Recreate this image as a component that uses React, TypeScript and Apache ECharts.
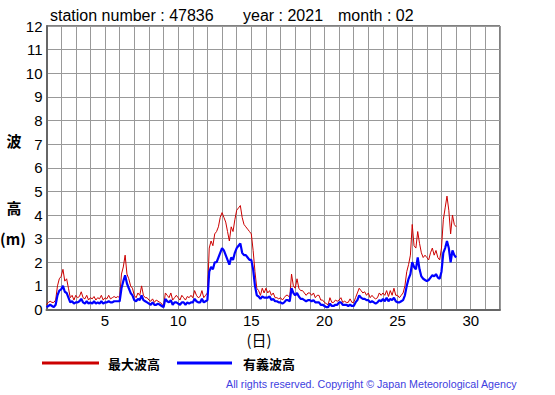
import React, { useEffect, useRef } from "react";
import * as echarts from "echarts";

// 3-hourly readings, starting at day 1 00:00, ending day 29 00:00
const maxWave: number[] = [
  0.2, 0.3, 0.35, 0.3, 0.3, 0.4, 1.0, 1.3,
  1.4, 1.7, 1.2, 1.3, 0.9, 0.5, 0.6, 0.4,
  0.6, 0.5, 0.55, 0.75, 0.5, 0.45, 0.6, 0.4,
  0.5, 0.45, 0.55, 0.4, 0.5, 0.45, 0.6, 0.4,
  0.5, 0.45, 0.6, 0.45, 0.5, 0.55, 0.5, 0.55,
  0.5, 1.5, 1.8, 2.3, 1.5, 1.3, 1.0, 0.9,
  0.6, 0.5, 0.7, 0.6, 1.0, 0.6, 0.5, 0.5,
  0.4, 0.35, 0.45, 0.3, 0.4, 0.35, 0.3, 0.25,
  0.1, 0.7, 0.6, 0.5, 0.7, 0.4, 0.5, 0.6,
  0.5, 0.4, 0.6, 0.5, 0.4, 0.55, 0.5, 0.6,
  0.5, 0.8, 0.6, 0.5, 0.55, 0.8, 0.5, 0.6,
  0.7, 2.6, 2.9, 2.7, 3.2, 3.3, 3.5, 3.9,
  4.1, 3.9, 3.7, 3.3, 2.9, 3.5, 3.3, 3.8,
  4.2, 4.3, 4.4, 3.9, 3.6, 3.5, 3.4, 3.3,
  3.2, 2.5, 1.6, 0.9, 0.8, 0.6, 0.9, 0.7,
  0.9, 0.7, 0.8, 0.6, 0.7, 0.5, 0.5, 0.45,
  0.5, 0.4, 0.5, 0.6, 0.6, 0.5, 1.5, 1.0,
  0.9, 1.3, 0.9, 0.8, 0.8, 0.7, 0.6, 0.7,
  0.7, 0.6, 0.7, 0.5, 0.6, 0.6, 0.4, 0.4,
  0.3, 0.25, 0.2, 0.5, 0.3, 0.3, 0.4, 0.35,
  0.4, 0.5, 0.3, 0.35, 0.3, 0.3, 0.45, 0.3,
  0.3, 0.5, 0.7, 0.9, 0.8, 0.7, 0.75, 0.6,
  0.7, 0.5, 0.6, 0.5, 0.45, 0.5, 0.7, 0.6,
  0.7, 0.6, 0.8, 0.55, 0.8, 0.6, 0.9, 0.6,
  0.6, 0.5, 0.6, 0.7, 1.0, 1.6, 1.9, 2.3,
  3.6, 2.7, 2.6, 3.3, 2.8, 2.4, 2.2, 2.3,
  2.2, 2.1, 2.4, 2.6, 2.3, 2.5, 2.2, 2.1,
  2.6, 3.8, 4.3, 4.8, 4.2, 3.2, 4.0, 3.6,
  3.5,
];

const sigWave: number[] = [
  0.1, 0.15, 0.2, 0.15, 0.1, 0.2, 0.6, 0.8,
  0.85, 1.0, 0.75, 0.7, 0.5, 0.3, 0.35, 0.25,
  0.3, 0.3, 0.35, 0.45, 0.3, 0.25, 0.35, 0.25,
  0.3, 0.25, 0.35, 0.25, 0.3, 0.25, 0.35, 0.25,
  0.3, 0.3, 0.35, 0.3, 0.3, 0.35, 0.35, 0.35,
  0.35, 0.9, 1.2, 1.45, 1.1, 0.9, 0.7, 0.6,
  0.4, 0.35, 0.45, 0.4, 0.6, 0.4, 0.35, 0.3,
  0.25, 0.2, 0.3, 0.2, 0.2, 0.25, 0.2, 0.15,
  0.1, 0.45, 0.35, 0.3, 0.4, 0.2, 0.3, 0.3,
  0.25, 0.2, 0.3, 0.3, 0.2, 0.3, 0.25, 0.3,
  0.3, 0.45, 0.35, 0.3, 0.3, 0.45, 0.3, 0.35,
  0.4, 1.6, 1.8, 1.7, 2.0, 2.0, 2.2, 2.4,
  2.6, 2.5, 2.3, 2.1, 1.9, 2.2, 2.1, 2.4,
  2.6, 2.7, 2.8, 2.4, 2.3, 2.3, 2.2, 2.1,
  2.1, 1.7, 1.0, 0.6, 0.55, 0.45, 0.55, 0.5,
  0.5, 0.5, 0.55, 0.4, 0.45, 0.35, 0.35, 0.3,
  0.3, 0.25, 0.3, 0.4, 0.4, 0.35, 0.9, 0.7,
  0.6, 0.7, 0.55, 0.45, 0.45, 0.4, 0.35, 0.4,
  0.4, 0.35, 0.4, 0.3, 0.3, 0.3, 0.2, 0.2,
  0.15, 0.1, 0.1, 0.25, 0.15, 0.15, 0.2, 0.2,
  0.3, 0.3, 0.2, 0.2, 0.2, 0.15, 0.2, 0.15,
  0.15, 0.3, 0.4, 0.6, 0.5, 0.45, 0.45, 0.4,
  0.4, 0.3, 0.35, 0.3, 0.25, 0.3, 0.4, 0.35,
  0.45, 0.35, 0.5, 0.35, 0.45, 0.4, 0.5, 0.35,
  0.3, 0.3, 0.35, 0.4, 0.6, 1.0, 1.3, 1.5,
  2.0, 1.8, 1.7, 2.2, 1.7, 1.4, 1.3, 1.25,
  1.2, 1.25, 1.35, 1.45, 1.4, 1.5, 1.35, 1.3,
  1.6, 2.4, 2.6, 2.9, 2.6, 2.0, 2.5, 2.3,
  2.2,
];

const xLabelDays = [5, 10, 15, 20, 25, 30];
const seriesNames = ["最大波高", "有義波高"];
const titleParts = ["station number : 47836", "year : 2021", "month : 02"];
const copyright = "All rights reserved. Copyright © Japan Meteorological Agency";

const FONT = "Liberation Sans, Arial, sans-serif";
const CJK = "Noto Sans CJK JP, sans-serif";

export default function App() {
  const ref = useRef<HTMLDivElement>(null);
  useEffect(() => {
    if (!ref.current) return;
    const chart = echarts.init(ref.current, null, { renderer: "svg" });
    const toPairs = (arr: number[]) => arr.map((v, i) => [1 + i / 8, v]);
    const txt = (text: string, x: number, y: number, size: number, family: string, extra: any = {}) => ({
      type: "text",
      x,
      y,
      style: {
        text,
        fontSize: size,
        fontFamily: family,
        fill: "#000",
        verticalAlign: "middle",
        ...extra,
      },
    });
    chart.setOption({
      animation: false,
      backgroundColor: "#fff",
      grid: {
        left: 46.5,
        top: 26,
        right: 55,
        bottom: 85.5,
        show: true,
        borderColor: "#000",
        borderWidth: 1,
        backgroundColor: "transparent",
      },
      xAxis: {
        type: "value",
        min: 1,
        max: 32,
        interval: 1,
        axisLine: { show: true, lineStyle: { color: "#666", width: 2 } },
        axisTick: { show: false },
        axisLabel: {
          margin: 3,
          color: "#000",
          fontSize: 15,
          fontFamily: FONT,
          formatter: (v: number) => (xLabelDays.includes(v) ? String(v) : ""),
        },
        splitLine: { show: true, lineStyle: { color: "#999", width: 1 } },
      },
      yAxis: {
        type: "value",
        min: 0,
        max: 12,
        interval: 1,
        axisLine: { show: true, lineStyle: { color: "#666", width: 2 } },
        axisTick: { show: false },
        axisLabel: { margin: 4, color: "#000", fontSize: 15, fontFamily: FONT },
        splitLine: { show: true, lineStyle: { color: "#999", width: 1 } },
      },
      series: [
        {
          name: seriesNames[0],
          type: "line",
          showSymbol: false,
          data: toPairs(maxWave),
          lineStyle: { color: "#cc0000", width: 1 },
          itemStyle: { color: "#cc0000" },
          z: 2,
        },
        {
          name: seriesNames[1],
          type: "line",
          showSymbol: false,
          data: toPairs(sigWave),
          lineStyle: { color: "#0000ff", width: 2.2 },
          itemStyle: { color: "#0000ff" },
          z: 3,
        },
      ],
      graphic: [
        txt(titleParts[0], 50, 15, 16, FONT),
        txt(titleParts[1], 243, 15, 16, FONT),
        txt(titleParts[2], 338, 15, 16, FONT),
        txt("波", 14, 140, 15, CJK, { align: "center", fontWeight: "bold" }),
        txt("高", 14, 207, 15, CJK, { align: "center", fontWeight: "bold" }),
        txt("(m)", 13, 238, 15, CJK, { align: "center", fontWeight: "bold" }),
        txt("(日)", 259, 339, 15, CJK, { align: "center" }),
        { type: "line", shape: { x1: 42, y1: 363, x2: 99, y2: 363 }, style: { stroke: "#cc0000", lineWidth: 3 } },
        txt(seriesNames[0], 108, 363, 13, CJK, { fontWeight: "bold" }),
        { type: "line", shape: { x1: 177, y1: 363, x2: 232, y2: 363 }, style: { stroke: "#0000ff", lineWidth: 3 } },
        txt(seriesNames[1], 243, 363, 13, CJK, { fontWeight: "bold" }),
        txt(copyright, 226, 384, 10.7, FONT, { fill: "#4040e0" }),
      ],
    });
    return () => chart.dispose();
  }, []);
  return <div ref={ref} style={{ width: 555, height: 395, position: "absolute", left: 0, top: 0 }} />;
}
